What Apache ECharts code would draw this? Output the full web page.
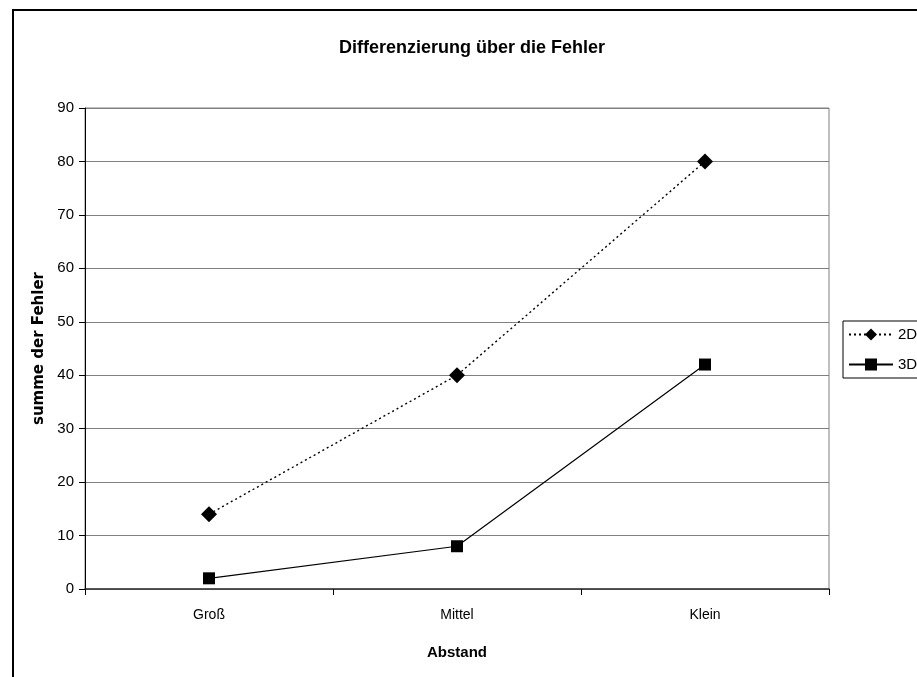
<!DOCTYPE html>
<html>
<head>
<meta charset="utf-8">
<script src="https://cdn.jsdelivr.net/npm/echarts@6/dist/echarts.min.js"></script>
<style>
  html, body { margin: 0; padding: 0; background: #fff; }
  #chart { width: 917px; height: 677px; }
</style>
</head>
<body>
<div id="chart"></div>
<script>
// Error totals by spacing, for 2D and 3D presentation
const categories = ['Groß', 'Mittel', 'Klein'];
const values2D = [14, 40, 80];
const values3D = [2, 8, 42];
const yTicks = { min: 0, max: 90, interval: 10 };

const FONT = '"Liberation Sans", Arial, sans-serif';

const chart = echarts.init(document.getElementById('chart'), null, { renderer: 'canvas' });

chart.setOption({
  backgroundColor: '#ffffff',
  animation: false,
  title: {
    text: 'Differenzierung über die Fehler',
    left: 467,
    textAlign: 'center',
    top: 34,
    textStyle: { fontFamily: FONT, fontSize: 18, fontWeight: 'bold', color: '#000' }
  },
  graphic: [{
    type: 'rect',
    silent: true,
    shape: { x: 13, y: 10, width: 1000, height: 1000 },
    style: { fill: 'none', stroke: '#000', lineWidth: 2 }
  }],
  legend: {
    orient: 'vertical',
    left: 843,
    top: 321,
    padding: [6, 12, 6, 5],
    itemWidth: 44,
    itemHeight: 15,
    itemGap: 15,
    borderColor: '#000',
    borderWidth: 1,
    backgroundColor: '#fff',
    textStyle: { fontFamily: FONT, fontSize: 15, color: '#000' },
    data: ['2D', '3D']
  },
  grid: {
    left: 85, right: 88, top: 108, bottom: 88,
    show: true,
    borderColor: '#808080',
    borderWidth: 1,
    backgroundColor: 'transparent'
  },
  xAxis: {
    type: 'category',
    data: categories,
    boundaryGap: true,
    name: 'Abstand',
    nameLocation: 'middle',
    nameGap: 56,
    nameTextStyle: { fontFamily: FONT, fontSize: 15, fontWeight: 'bold', color: '#000' },
    axisLine: { lineStyle: { color: '#333', width: 1.5 } },
    axisTick: { show: true, alignWithLabel: false, length: 6, lineStyle: { color: '#000' } },
    axisLabel: { margin: 19, fontFamily: FONT, fontSize: 14, color: '#000' },
    splitLine: { show: false }
  },
  yAxis: {
    type: 'value',
    min: yTicks.min,
    max: yTicks.max,
    interval: yTicks.interval,
    name: 'summe der Fehler',
    nameLocation: 'middle',
    nameGap: 37,
    nameRotate: 90,
    nameTextStyle: { fontFamily: '"DejaVu Sans", sans-serif', fontSize: 15, fontWeight: 'bold', color: '#000' },
    axisLine: { show: true, lineStyle: { color: '#000', width: 1 } },
    axisTick: { show: true, inside: false, length: 6, lineStyle: { color: '#000' } },
    axisLabel: { margin: 11, fontFamily: FONT, fontSize: 15, color: '#000' },
    splitLine: { show: true, lineStyle: { color: '#808080', width: 1 } }
  },
  series: [
    {
      name: '2D',
      type: 'line',
      data: values2D,
      symbol: 'diamond',
      symbolSize: 16,
      itemStyle: { color: '#000' },
      lineStyle: { color: '#000', width: 1.4, type: [2, 3] }
    },
    {
      name: '3D',
      type: 'line',
      data: values3D,
      symbol: 'rect',
      symbolSize: 12,
      itemStyle: { color: '#000' },
      lineStyle: { color: '#000', width: 1.2, type: 'solid' }
    }
  ]
});
</script>
</body>
</html>
